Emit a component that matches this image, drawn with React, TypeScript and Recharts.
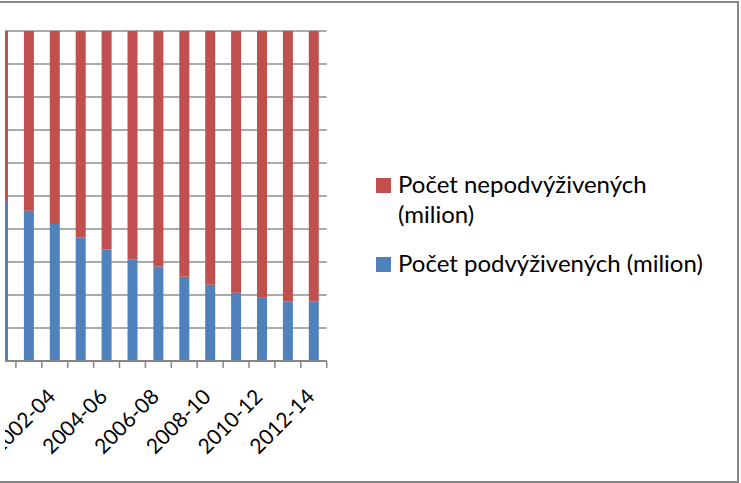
import { BarChart, Bar, XAxis, YAxis, CartesianGrid, Legend } from 'recharts'

const categories = ['2000-02', '2001-03', '2002-04', '2003-05', '2004-06', '2005-07', '2006-08', '2007-09', '2008-10', '2009-11', '2010-12', '2011-13', '2012-14']
// share of the total
const podvyzivenych = [48.5, 45.5, 41.5, 37.5, 33.8, 30.8, 28.6, 25.5, 23.1, 20.7, 19.2, 18.1, 18.1]
const nepodvyzivenych = [51.5, 54.5, 58.5, 62.5, 66.2, 69.2, 71.4, 74.5, 76.9, 79.3, 80.8, 81.9, 81.9]
const yTicks = [0, 10, 20, 30, 40, 50, 60, 70, 80, 90, 100]

const RED = '#C0504D'
const BLUE = '#4F81BD'
const LINE = '#878787'
const FONT = 'Lato, "Open Sans", sans-serif'

const CHART_W = 736
const CHART_H = 483
const PLOT_LEFT = -15
const PLOT_RIGHT = 321.7
const AXIS_Y = 361
const BAND = (PLOT_RIGHT - PLOT_LEFT) / categories.length

const data = categories.map((name, i) => ({ name, pod: podvyzivenych[i], nepod: nepodvyzivenych[i] }))

function CatTick({ x, payload, index }: { x: number; payload: { value: string }; index: number }) {
  const edge = x + BAND / 2
  const ax = x + 2
  return (
    <g>
      <line x1={edge} x2={edge} y1={AXIS_Y} y2={AXIS_Y + 7} stroke={LINE} strokeWidth={1.5} />
      {index % 2 === 0 && (
        <text x={ax} y={398} textAnchor="end" transform={`rotate(-45 ${ax} 398)`}
          style={{ fontFamily: FONT, fontSize: 21, fill: '#000' }}>{payload.value}</text>
      )}
    </g>
  )
}

function LegendBox() {
  const item = (color: string, label: string, mt: number) => (
    <div style={{ display: 'flex', alignItems: 'flex-start', marginTop: mt }}>
      <div style={{ width: 15, height: 15, background: color, marginTop: 9, flex: 'none' }} />
      <div style={{ marginLeft: 7, width: 316 }}>{label}</div>
    </div>
  )
  return (
    <div style={{ fontFamily: FONT, fontSize: 24, lineHeight: '30px', color: '#000' }}>
      {item(RED, 'Počet nepodvýživených (milion)', 0)}
      {item(BLUE, 'Počet podvýživených (milion)', 19)}
    </div>
  )
}

export default function App() {
  return (
    <div style={{ position: 'absolute', left: 0, top: 0, width: 741, height: 483, background: '#fff', overflow: 'hidden' }}>
      <div style={{
        position: 'absolute', left: -4, top: 1, width: 741, height: 478,
        borderTop: `2px solid ${LINE}`, borderRight: `2px solid ${LINE}`, borderBottom: `2px solid ${LINE}`,
      }} />
      <div style={{ position: 'absolute', left: 5, top: 0 }}>
        <BarChart width={CHART_W} height={CHART_H} data={data} barSize={10}
          margin={{ top: 31, right: CHART_W - PLOT_RIGHT, bottom: CHART_H - AXIS_Y - 90, left: PLOT_LEFT }}>
          <CartesianGrid vertical={false} x={0} width={PLOT_RIGHT} stroke="#8f8f8f" strokeWidth={1.5} />
          <XAxis dataKey="name" height={90} interval={0} tickLine={false}
            axisLine={{ stroke: LINE, strokeWidth: 2 }} tick={(p: any) => <CatTick {...p} />} />
          {/* y labels sit outside the cropped view, so ticks render nothing */}
          <YAxis width={0} domain={[0, 100]} ticks={yTicks} interval={0} tick={() => <g />} axisLine={false} tickLine={false} />
          <Legend layout="horizontal" verticalAlign="middle" content={() => <LegendBox />}
            wrapperStyle={{ position: 'absolute', left: 371, top: 169, width: 360 }} />
          <Bar dataKey="pod" stackId="a" fill={BLUE} isAnimationActive={false} />
          <Bar dataKey="nepod" stackId="a" fill={RED} isAnimationActive={false} />
        </BarChart>
      </div>
    </div>
  )
}
